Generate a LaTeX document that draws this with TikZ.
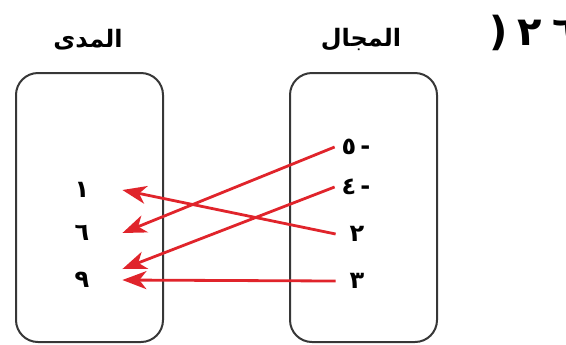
\documentclass[tikz,border=0pt]{standalone}
\usepackage{fontspec}
\newfontfamily\arabicfont[Script=Arabic]{DejaVu Sans}
\TeXXeTstate=1
\usetikzlibrary{positioning, arrows.meta}
\definecolor{maprred}{RGB}{224,36,43}
\definecolor{setgray}{RGB}{55,55,55}

\begin{document}
\begin{tikzpicture}[
    x=0.5pt, y=-0.5pt,
    setbox/.style={rectangle, draw=setgray, line width=1pt, rounded corners=11pt,
                   minimum width=73.5pt, minimum height=134.5pt},
    heading/.style={font=\arabicfont\bfseries\fontsize{12}{14}\selectfont},
    rangeval/.style={font=\arabicfont\bfseries\fontsize{12}{14}\selectfont,
                     inner sep=0pt, minimum width=40pt},
    domainval/.style={font=\arabicfont\bfseries\fontsize{12}{14}\selectfont,
                      inner sep=0pt, minimum width=21pt},
    arrow/.style={-{Stealth[length=12pt, width=9pt, inset=3.5pt]}, draw=maprred,
                  fill=maprred, line width=1.4pt}
]
\useasboundingbox (0,0) rectangle (566,344);

% Mengen
\node[setbox] (range) at (89.5,207.5) {};
\node[setbox] (domain) at (363.5,207.5) {};

% Ueberschriften
\node[heading] (rangetitle) at (88,40) {\beginR المدى\endR};
\node[heading] (domaintitle) at (361,40) {\beginR المجال\endR};
\node[font=\arabicfont\bfseries\fontsize{20}{24}\selectfont, anchor=west, inner sep=0pt]
    (exno) at (489,33) {(\kern5pt ٢\kern5pt ٦};

% Elemente
\node[rangeval] (r1) at (82,190) {١};
\node[rangeval] (r6) at (82,233) {٦};
\node[rangeval] (r9) at (82,280) {٩};

\node[domainval] (d5) at (356,147) {٥\kern2pt-};
\node[domainval] (d4) at (356,187) {٤\kern2pt-};
\node[domainval] (d2) at (357,234) {٢};
\node[domainval] (d3) at (357,281) {٣};

% Pfeile
\draw[arrow] (d5.west) -- (r6.east);
\draw[arrow] (d4.west) -- ([yshift=5.5pt]r9.east);
\draw[arrow] (d2.west) -- (r1.east);
\draw[arrow] (d3.west) -- (r9.east);

\end{tikzpicture}
\end{document}
